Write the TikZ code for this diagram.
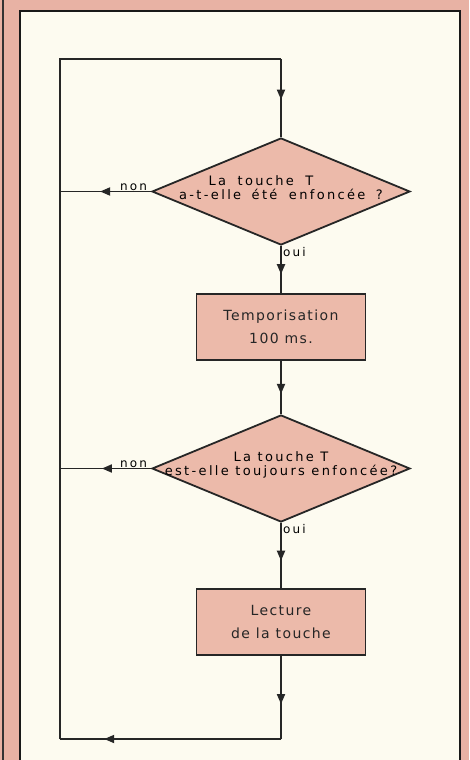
\documentclass[tikz,border=0pt]{standalone}
\usepackage{fontspec}
\usepackage{tikz}
\usetikzlibrary{shapes.geometric}
\usetikzlibrary{arrows.meta}
\usetikzlibrary{decorations.markings}
\newfontfamily\lettrage[LetterSpace=18]{DejaVu Sans}
\newfontfamily\lettrageboite[LetterSpace=10]{DejaVu Sans}
\definecolor{rose}{RGB}{232,178,164}
\definecolor{roseclair}{RGB}{236,186,170}
\definecolor{creme}{RGB}{253,251,240}
\tikzstyle{trait}=[line width=1.8pt, black!85]
\tikzstyle{fleche}=[trait, postaction={decorate},
  decoration={markings, mark=at position #1 with {\arrow{Triangle[width=8pt,length=10pt]}}}]
\tikzstyle{test}=[draw, trait, fill=roseclair, diamond, inner sep=0pt,
  minimum width=258pt, minimum height=107pt]
\tikzstyle{action}=[draw, trait, fill=roseclair, rectangle, inner sep=0pt,
  minimum width=169pt, minimum height=66pt, font=\lettrageboite\fontsize{14}{23}\selectfont, align=center]
\tikzstyle{texte}=[font=\lettrage\fontsize{13}{14}\selectfont, align=center]
\tikzstyle{oui}=[font=\lettrage\fontsize{12}{12}\selectfont, inner sep=1pt]

\begin{document}
\begin{tikzpicture}[x=1pt, y=-1pt]
        \useasboundingbox (0,0) rectangle (469,760);
        \fill[rose] (0,0) rectangle (469,760);
        \draw[line width=1.2pt, black!80] (3,0) -- (3,760);
        \filldraw[fill=creme, draw=black!90, line width=2pt] (20,11) rectangle (460,765);

        \node[test, label={[texte, yshift=4pt]center:La\hspace{5pt} touche\hspace{5pt} T\hspace*{40pt}\\a-t-elle\hspace{4pt} été\hspace{5pt} enfoncée\hspace{4pt} ?}] (test1) at (281, 191.5) {};
        \node[action] (tempo) at (281, 327) {Temporisation\\ 100 ms.};
        \node[test, label={[texte, yshift=4pt]center:La touche T\\est-elle toujours enfoncée?}] (test2) at (281, 468.5) {};
        \node[action] (lecture) at (281, 622) {Lecture\\de la touche};

        \coordinate (haut) at (281, 59);
        \coordinate (hautgauche) at (60, 59);
        \coordinate (bas) at (281, 739);
        \coordinate (basgauche) at (60, 739);

        \node[oui, anchor=south east] (non1) at ([xshift=-3pt]test1.west) {non};
        \node[oui, anchor=north west] (oui1) at ([xshift=1pt]test1.south) {oui};
        \node[oui, anchor=south east] (non2) at ([xshift=-3pt]test2.west) {non};
        \node[oui, anchor=north west] (oui2) at ([xshift=1pt]test2.south) {oui};

        \draw[fleche=0.52] (haut) -- (test1.north);
        \draw[fleche=0.56] (test1.west) -- (test1.west -| hautgauche);
        \draw[fleche=0.6] (test1.south) -- (tempo.north);
        \draw[fleche=0.62] (tempo.south) -- (test2.north);
        \draw[fleche=0.54] (test2.west) -- (test2.west -| hautgauche);
        \draw[fleche=0.58] (test2.south) -- (lecture.north);
        \draw[fleche=0.58] (lecture.south) -- (bas);
        \draw[fleche=0.8] (bas) -- (basgauche);
        \draw[trait, line join=miter] (basgauche) -- (hautgauche) -- (haut);
    \end{tikzpicture}
\end{document}
